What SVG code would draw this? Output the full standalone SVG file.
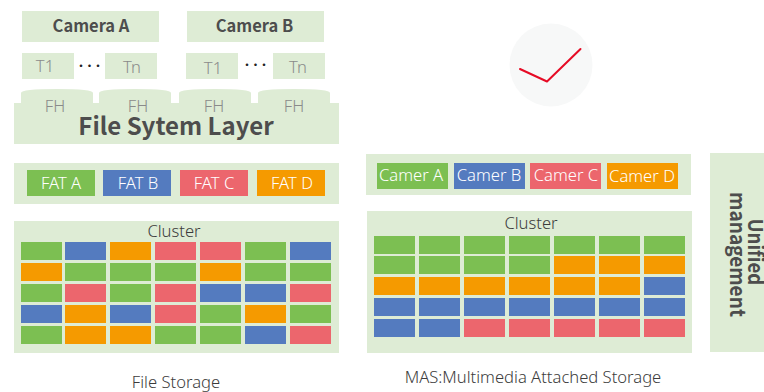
<svg xmlns="http://www.w3.org/2000/svg" width="764" height="392" viewBox="0 0 764 392">
<style>
text{font-family:"Noto Sans CJK SC","Noto Sans",sans-serif;text-anchor:middle}
.p{fill:#deecd5}
.g{fill:#7cbf52}.b{fill:#547bbf}.r{fill:#ec666d}.o{fill:#f59a00}
.h{font-size:16.500px;font-weight:700;fill:#4d4d4d}
.t{font-size:16.600px;font-weight:300;fill:#8a8a8a;font-family:"Noto Sans",sans-serif}
.w{font-size:16.600px;font-weight:300;fill:#fff;font-family:"Noto Sans",sans-serif}
.c{font-size:16.600px;font-weight:300;fill:#3c3c3c;font-family:"Noto Sans",sans-serif}
.u{font-size:18.500px;font-weight:700;fill:#4d4d4d}
</style>
<rect width="764" height="392" fill="#fff"/>
<g id="file-storage">
<g id="camera-a"><rect class="p" x="22" y="11" width="137" height="31"/><text class="h" x="91" y="32">Camera A</text></g>
<g id="camera-b"><rect class="p" x="187" y="11" width="137" height="31"/><text class="h" x="254.500" y="32">Camera B</text></g>
<g id="a-t1"><rect class="p" x="22" y="53" width="52" height="26"/><text class="t" x="45" y="72">T1</text></g>
<g id="a-dots"><text x="81 89.500 98" y="70" font-size="10" font-weight="700" fill="#222">•••</text></g>
<g id="a-tn"><rect class="p" x="105" y="53" width="52" height="26"/><text class="t" x="132" y="73">Tn</text></g>
<g id="b-t1"><rect class="p" x="186" y="53" width="52" height="26"/><text class="t" x="213" y="74">T1</text></g>
<g id="b-dots"><text x="247 255.500 264" y="69" font-size="10" font-weight="700" fill="#222">•••</text></g>
<g id="b-tn"><rect class="p" x="273" y="53" width="52" height="26"/><text class="t" x="298" y="73">Tn</text></g>
<g id="file-system-layer">
<path class="p" d="M21 104V93Q21 89 57 89T93 93V104ZM99 104V93Q99 89 135 89T171 93V104ZM179 104V93Q179 89 215 89T251 93V104ZM258 104V93Q258 89 294 89T330 93V104Z"/>
<rect class="p" x="14" y="103" width="325" height="41"/>
<text class="t" x="55" y="112">FH</text><text class="t" x="138" y="112">FH</text><text class="t" x="214" y="112">FH</text><text class="t" x="294" y="112">FH</text>
<text x="176" y="135" font-size="24" font-weight="700" fill="#4d4d4d">File Sytem Layer</text>
</g>
<g id="fat-bar"><rect class="p" x="14" y="163" width="325" height="41"/></g>
<g id="fat-a"><rect class="g" x="27" y="170" width="68" height="26"/><text class="w" x="61" y="189">FAT A</text></g>
<g id="fat-b"><rect class="b" x="103" y="170" width="68" height="26"/><text class="w" x="138" y="189">FAT B</text></g>
<g id="fat-c"><rect class="r" x="180" y="170" width="68" height="26"/><text class="w" x="214" y="189">FAT C</text></g>
<g id="fat-d"><rect class="o" x="257" y="170" width="68" height="26"/><text class="w" x="292" y="189">FAT D</text></g>
<g id="cluster-left">
<rect class="p" x="14" y="221" width="325" height="132"/>
<text class="c" x="174" y="237">Cluster</text>
<g>
<rect class="g" x="21" y="242" width="41" height="18"/><rect class="b" x="65" y="242" width="41" height="18"/><rect class="o" x="110" y="242" width="41" height="18"/><rect class="r" x="155" y="242" width="41" height="18"/><rect class="r" x="200" y="242" width="41" height="18"/><rect class="g" x="245" y="242" width="41" height="18"/><rect class="b" x="290" y="242" width="41" height="18"/>
<rect class="o" x="21" y="263" width="41" height="18"/><rect class="g" x="65" y="263" width="41" height="18"/><rect class="g" x="110" y="263" width="41" height="18"/><rect class="g" x="155" y="263" width="41" height="18"/><rect class="o" x="200" y="263" width="41" height="18"/><rect class="g" x="245" y="263" width="41" height="18"/><rect class="g" x="290" y="263" width="41" height="18"/>
<rect class="g" x="21" y="284" width="41" height="18"/><rect class="r" x="65" y="284" width="41" height="18"/><rect class="g" x="110" y="284" width="41" height="18"/><rect class="r" x="155" y="284" width="41" height="18"/><rect class="b" x="200" y="284" width="41" height="18"/><rect class="b" x="245" y="284" width="41" height="18"/><rect class="r" x="290" y="284" width="41" height="18"/>
<rect class="b" x="21" y="305" width="41" height="18"/><rect class="o" x="65" y="305" width="41" height="18"/><rect class="b" x="110" y="305" width="41" height="18"/><rect class="r" x="155" y="305" width="41" height="18"/><rect class="g" x="200" y="305" width="41" height="18"/><rect class="o" x="245" y="305" width="41" height="18"/><rect class="g" x="290" y="305" width="41" height="18"/>
<rect class="g" x="21" y="326" width="41" height="18"/><rect class="o" x="65" y="326" width="41" height="18"/><rect class="o" x="110" y="326" width="41" height="18"/><rect class="g" x="155" y="326" width="41" height="18"/><rect class="g" x="200" y="326" width="41" height="18"/><rect class="b" x="245" y="326" width="41" height="18"/><rect class="r" x="290" y="326" width="41" height="18"/>
</g>
</g>
<text class="c" x="176" y="388">File Storage</text>
</g>
<g id="check"><circle cx="551" cy="65" r="41.500" fill="#f7f8f8"/><path d="M520 69L547 81.500L580.500 49" fill="none" stroke="#e60b25" stroke-width="2" stroke-linecap="round" stroke-linejoin="round"/></g>
<g id="mas">
<g id="camer-bar"><rect class="p" x="366" y="154" width="325" height="41"/></g>
<g id="camer-a"><rect class="g" x="377" y="163" width="71" height="26"/><text class="w" x="411" y="181">Camer A</text></g>
<g id="camer-b"><rect class="b" x="454" y="163" width="71" height="26"/><text class="w" x="489" y="181">Camer B</text></g>
<g id="camer-c"><rect class="r" x="530" y="163" width="71" height="26"/><text class="w" x="566" y="181">Camer C</text></g>
<g id="camer-d"><rect class="o" x="607" y="163" width="71" height="26"/><text class="w" x="642" y="182">Camer D</text></g>
<g id="cluster-right">
<rect class="p" x="367" y="211" width="325" height="142"/>
<text class="c" x="531" y="229">Cluster</text>
<g>
<rect class="g" x="374" y="236" width="41" height="18"/><rect class="g" x="419" y="236" width="41" height="18"/><rect class="g" x="464" y="236" width="41" height="18"/><rect class="g" x="509" y="236" width="41" height="18"/><rect class="g" x="554" y="236" width="41" height="18"/><rect class="g" x="599" y="236" width="41" height="18"/><rect class="g" x="644" y="236" width="41" height="18"/>
<rect class="g" x="374" y="256" width="41" height="18"/><rect class="g" x="419" y="256" width="41" height="18"/><rect class="g" x="464" y="256" width="41" height="18"/><rect class="g" x="509" y="256" width="41" height="18"/><rect class="o" x="554" y="256" width="41" height="18"/><rect class="o" x="599" y="256" width="41" height="18"/><rect class="o" x="644" y="256" width="41" height="18"/>
<rect class="o" x="374" y="277" width="41" height="18"/><rect class="o" x="419" y="277" width="41" height="18"/><rect class="o" x="464" y="277" width="41" height="18"/><rect class="o" x="509" y="277" width="41" height="18"/><rect class="o" x="554" y="277" width="41" height="18"/><rect class="o" x="599" y="277" width="41" height="18"/><rect class="b" x="644" y="277" width="41" height="18"/>
<rect class="b" x="374" y="298" width="41" height="18"/><rect class="b" x="419" y="298" width="41" height="18"/><rect class="b" x="464" y="298" width="41" height="18"/><rect class="b" x="509" y="298" width="41" height="18"/><rect class="b" x="554" y="298" width="41" height="18"/><rect class="b" x="599" y="298" width="41" height="18"/><rect class="b" x="644" y="298" width="41" height="18"/>
<rect class="b" x="374" y="319" width="41" height="18"/><rect class="b" x="419" y="319" width="41" height="18"/><rect class="r" x="464" y="319" width="41" height="18"/><rect class="r" x="509" y="319" width="41" height="18"/><rect class="r" x="554" y="319" width="41" height="18"/><rect class="r" x="599" y="319" width="41" height="18"/><rect class="r" x="644" y="319" width="41" height="18"/>
</g>
</g>
<g id="unified-management"><rect class="p" x="710" y="153" width="54" height="199"/>
<text class="u" transform="translate(747.500,252) rotate(90) scale(1,1.100)">Unified</text>
<text class="u" transform="translate(730,254.500) rotate(90) scale(1.030,1.150)">management</text></g>
<text class="c" x="533" y="383">MAS:Multimedia Attached Storage</text>
</g>
</svg>
